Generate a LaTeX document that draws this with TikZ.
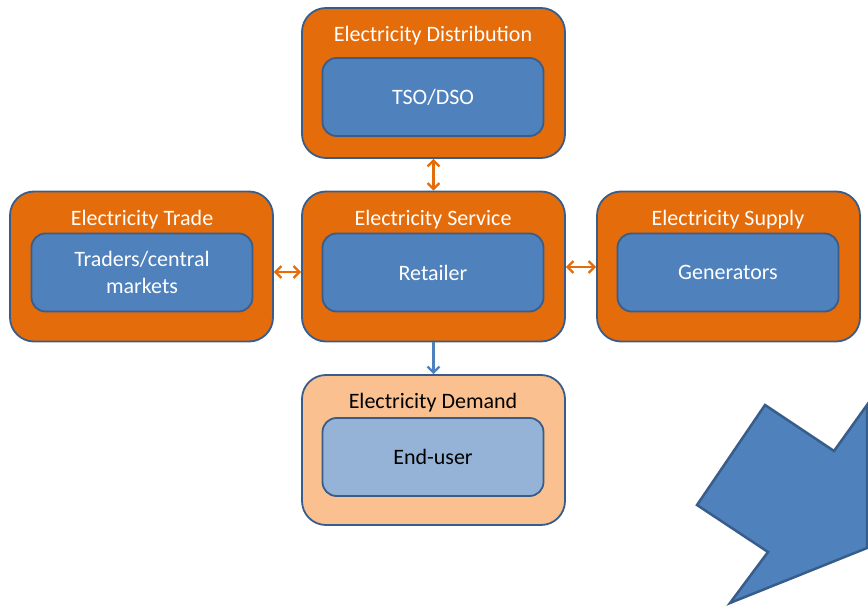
\documentclass[tikz,border=0pt]{standalone}
\usepackage{fontspec}
\setmainfont{Carlito}
\usetikzlibrary{arrows.meta}
\definecolor{orng}{HTML}{E46C0A}
\definecolor{bfill}{HTML}{4F81BD}
\definecolor{bline}{HTML}{385D8A}
\definecolor{lorng}{HTML}{FAC090}
\definecolor{lblue}{HTML}{95B3D7}
\tikzset{
  outerbox/.style={draw=bline, line width=1.8pt, fill=orng, rounded corners=24pt, minimum width=263pt, minimum height=150pt, inner sep=0pt},
  innerbox/.style={draw=bline, line width=1.8pt, fill=bfill, rounded corners=14pt, minimum width=221pt, minimum height=78pt, inner sep=0pt, text=white, font=\fontsize{22}{27}\selectfont, align=center},
  titletext/.style={text=white, font=\fontsize{22}{27}\selectfont, inner sep=0pt},
  dblarrow/.style={draw=orng, line width=2.2pt, {Straight Barb[length=6pt,width=12pt]}-{Straight Barb[length=6pt,width=12pt]}},
  onearrow/.style={draw=bfill, line width=2.2pt, -{Straight Barb[length=6pt,width=12pt]}},
}
\begin{document}
\begin{tikzpicture}[x=1pt,y=-1pt]
\useasboundingbox (0,0) rectangle (868,610);
% Distribution
\node[outerbox] (dist) at (433.5,83) {};
\node[titletext] (distt) at (433,36) {Electricity Distribution};
\node[innerbox] (tso) at (433,97) {TSO/DSO};
% Trade
\node[outerbox] (trade) at (141.5,266.5) {};
\node[titletext] (tradet) at (142,220) {Electricity Trade};
\node[innerbox] (traders) at (142,272.5) {Traders/central\\markets};
% Service
\node[outerbox] (serv) at (433.5,266.5) {};
\node[titletext] (servt) at (433,220) {Electricity Service};
\node[innerbox] (ret) at (433,272.5) {Retailer};
% Supply
\node[outerbox] (sup) at (728.5,266.5) {};
\node[titletext] (supt) at (728,220) {Electricity Supply};
\node[innerbox] (gen) at (728,272.5) {Generators};
% Demand
\node[outerbox, fill=lorng] (dem) at (433.5,450) {};
\node[titletext, text=black] (demt) at (433,403) {Electricity Demand};
\node[innerbox, fill=lblue, text=black] (end) at (433,457) {End-user};
% connectors
\draw[dblarrow] (dist.south) -- (serv.north);
\draw[dblarrow] (trade.east |- 0,272) -- (serv.west |- 0,272);
\draw[dblarrow] (serv.east |- 0,267) -- (sup.west |- 0,267);
\draw[onearrow] (serv.south) -- (dem.north);
% big arrow
\begin{scope}
\clip (0,0) rectangle (868,610);
\draw[draw=bline, fill=bfill, line width=2.5pt, line join=miter]
  (765,405) -- (834,451) -- (867,405) -- (867,548) -- (730,603) -- (768,552) -- (697,505) -- cycle;
\end{scope}
\end{tikzpicture}
\end{document}
